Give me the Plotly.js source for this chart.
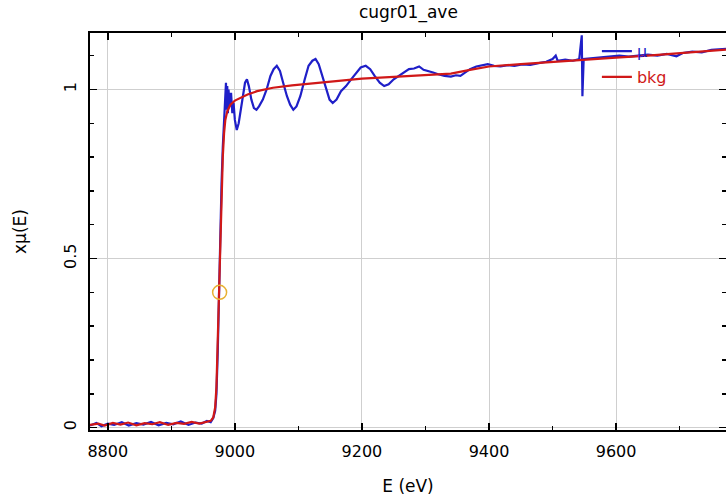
<!DOCTYPE html>
<html>
<head>
<meta charset="utf-8">
<script src="https://cdn.plot.ly/plotly-3.0.1.min.js"></script>
<style>html,body{margin:0;padding:0;background:#fff;}#chart{width:726px;height:501px;}</style>
</head>
<body>
<div id="chart"></div>
<script>
// Energy grid and mu(E) values
var energyMu = [8772,8782,8790,8800,8810,8822,8833,8845,8856,8868,8880,8892,8903,8915,8927,8938,8948,8956,8962,8966,8969,8971,8973,8975,8977,8979,8981,8983,8985,8986,8987,8988,8989,8990,8992,8994,8996,8998,9000,9003,9006,9009,9013,9016,9019,9022,9026,9030,9034,9038,9044,9050,9056,9061,9066,9071,9076,9082,9087,9092,9097,9103,9110,9116,9122,9127,9132,9138,9144,9149,9154,9160,9167,9175,9183,9190,9198,9206,9213,9220,9228,9235,9242,9250,9258,9266,9274,9282,9290,9297,9304,9312,9320,9330,9340,9348,9355,9362,9370,9380,9390,9398,9408,9418,9430,9440,9452,9465,9478,9490,9500,9505,9508,9520,9532,9542,9546,9547,9549,9560,9575,9590,9605,9620,9635,9650,9665,9680,9695,9705,9720,9735,9750,9773];
var muValues = [0.006,0.014,0.004,0.012,0.008,0.016,0.006,0.013,0.009,0.017,0.007,0.014,0.010,0.018,0.008,0.015,0.012,0.020,0.016,0.028,0.05,0.10,0.22,0.40,0.58,0.72,0.83,0.90,0.97,1.02,0.94,1.01,0.93,1.00,0.95,0.99,0.93,0.96,0.91,0.88,0.90,0.94,0.99,1.02,1.03,1.01,0.97,0.945,0.94,0.95,0.97,1.00,1.04,1.06,1.07,1.055,1.02,0.98,0.955,0.94,0.95,0.98,1.03,1.07,1.085,1.09,1.075,1.04,1.0,0.97,0.96,0.97,0.995,1.01,1.03,1.045,1.065,1.07,1.06,1.04,1.02,1.01,1.015,1.03,1.04,1.05,1.06,1.062,1.068,1.058,1.055,1.05,1.045,1.04,1.038,1.042,1.04,1.05,1.06,1.068,1.072,1.075,1.07,1.068,1.072,1.07,1.074,1.073,1.078,1.082,1.09,1.10,1.085,1.088,1.085,1.09,1.16,0.98,1.09,1.092,1.095,1.098,1.10,1.097,1.10,1.103,1.10,1.105,1.098,1.108,1.112,1.11,1.117,1.12];

// Background function
var energyBkg = [8772,8785,8795,8808,8820,8832,8845,8858,8870,8882,8895,8908,8920,8932,8944,8955,8962,8966,8969,8971,8973,8975,8977,8979,8981,8983,8985,8988,8993,9000,9010,9020,9035,9060,9090,9120,9160,9200,9250,9300,9340,9370,9400,9450,9500,9550,9600,9650,9700,9773];
var bkgValues = [0.008,0.012,0.006,0.014,0.009,0.015,0.007,0.013,0.010,0.016,0.008,0.014,0.011,0.017,0.012,0.018,0.02,0.03,0.06,0.12,0.25,0.40,0.57,0.70,0.80,0.87,0.91,0.935,0.955,0.967,0.977,0.985,0.995,1.005,1.012,1.018,1.026,1.032,1.037,1.042,1.047,1.058,1.068,1.075,1.082,1.087,1.094,1.100,1.108,1.118];

// E0 marker
var e0Energy = [8976];
var e0Value = [0.40];

var xTicks = [8800, 9000, 9200, 9400, 9600];
var yTicks = [0, 0.5, 1];

var FONT = 'DejaVu Sans, sans-serif';
var BLUE = '#1f1fc8';
var RED = '#d01818';

var traces = [
  {x: energyMu, y: muValues, type: 'scatter', mode: 'lines', name: '<span style="color:' + BLUE + '">μ</span>',
   legendgroup: 'a', line: {color: BLUE, width: 2.2}},
  {x: energyBkg, y: bkgValues, type: 'scatter', mode: 'lines', name: '<span style="color:' + RED + '">bkg</span>',
   legendgroup: 'b', line: {color: RED, width: 2.2}},
  {x: e0Energy, y: e0Value, type: 'scatter', mode: 'markers', showlegend: false,
   marker: {symbol: 'circle-open', size: 14, color: '#e8b030', line: {width: 1.5, color: '#e8b030'}}}
];

var layout = {
  width: 726, height: 501,
  margin: {l: 90, r: 0, t: 33, b: 71},
  paper_bgcolor: '#fff', plot_bgcolor: '#fff',
  font: {family: FONT, size: 16, color: '#000'},
  title: {text: 'cugr01_ave', font: {family: FONT, size: 17, color: '#000'}, x: 0.5625, xanchor: 'center', y: 0.975, yanchor: 'middle'},
  showlegend: true,
  legend: {x: 0.797, y: 0.997, xanchor: 'left', yanchor: 'top', bgcolor: 'rgba(0,0,0,0)', borderwidth: 0,
           font: {family: FONT, size: 16}, tracegroupgap: 2, itemwidth: 30},
  xaxis: {
    range: [8772, 9773], tickmode: 'array', tickvals: xTicks, ticktext: xTicks.map(String),
    ticks: 'inside', ticklen: 7, tickwidth: 1.5, tickcolor: '#000',
    minor: {dtick: 100, ticks: 'inside', ticklen: 4, tickcolor: '#000', showgrid: false},
    showline: true, linecolor: '#000', linewidth: 2, mirror: 'allticks',
    showgrid: true, gridcolor: '#cfcfcf', gridwidth: 1, zeroline: false,
    tickfont: {family: FONT, size: 16}, ticklabelstandoff: 6,
    title: {text: 'E (eV)', font: {family: FONT, size: 17}, standoff: 20}
  },
  yaxis: {
    range: [-0.007, 1.167], tickmode: 'array', tickvals: yTicks, ticktext: ['0', '0.5', '1'],
    ticks: 'inside', ticklen: 7, tickwidth: 1.5, tickcolor: '#000', tickangle: -90,
    minor: {dtick: 0.1, ticks: 'inside', ticklen: 4, tickcolor: '#000', showgrid: false},
    showline: true, linecolor: '#000', linewidth: 2, mirror: 'allticks',
    showgrid: true, gridcolor: '#cfcfcf', gridwidth: 1, zeroline: false,
    tickfont: {family: FONT, size: 16}, ticklabelstandoff: 6,
    title: {text: 'xμ(E)', font: {family: FONT, size: 17}, standoff: 30}
  }
};

Plotly.newPlot('chart', traces, layout, {displayModeBar: false, staticPlot: true});
</script>
</body>
</html>
